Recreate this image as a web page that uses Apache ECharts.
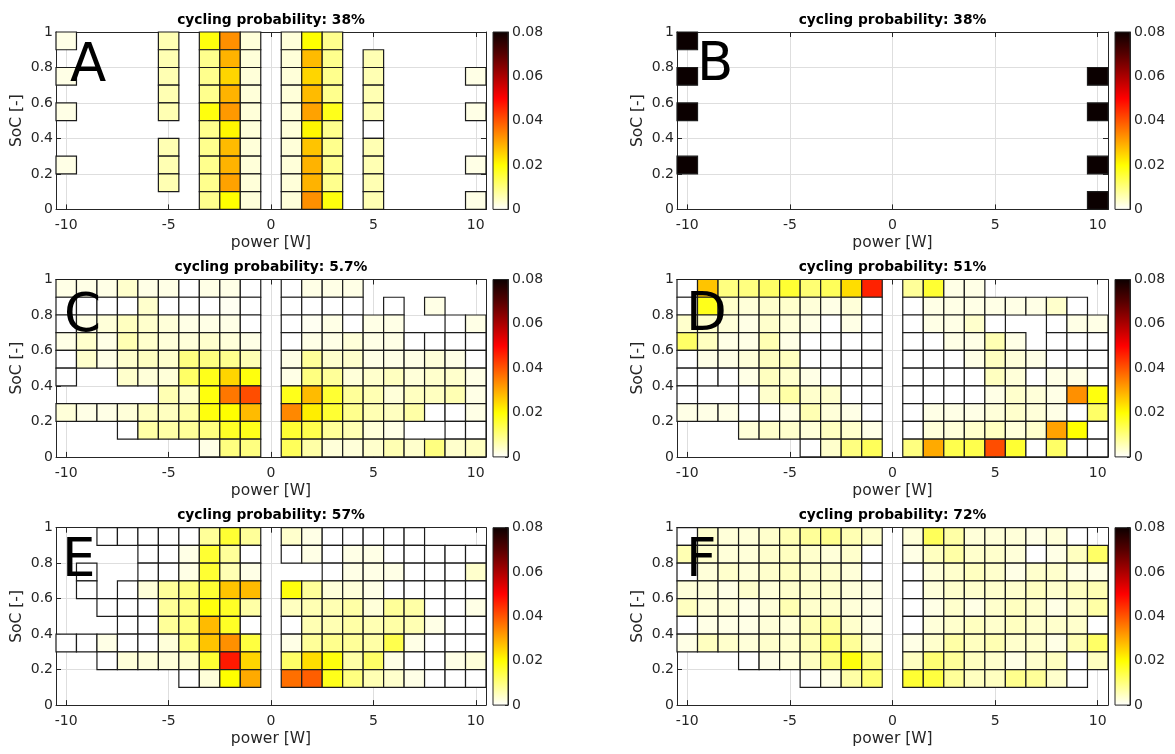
<!DOCTYPE html>
<html>
<head>
<meta charset="utf-8">
<script src="https://cdn.jsdelivr.net/npm/echarts@6/dist/echarts.min.js"></script>
<style>html,body{margin:0;padding:0;background:#fff}#chart{width:1175px;height:754px}</style>
</head>
<body>
<div id="chart"></div>
<script>
// ---------- data (values in units of 0.001 probability; null = no cell) ----------
const n = null;
const SCALE = 0.001;
const POWER = [-10,-9,-8,-7,-6,-5,-4,-3,-2,-1,0,1,2,3,4,5,6,7,8,9,10];
const SOC_LOWER = [0.9,0.8,0.7,0.6,0.5,0.4,0.3,0.2,0.1,0.0]; // rows, top to bottom
const X_TICKS = [-10,-5,0,5,10];
const TITLES = ['cycling probability: 38%','cycling probability: 38%','cycling probability: 5.7%',
                'cycling probability: 51%','cycling probability: 57%','cycling probability: 72%'];
const LETTERS = ['A','B','C','D','E','F'];

const panelA = [
 [2,n,n,n,n,6,n,19,33,3,n,3,20,9,n,n,n,n,n,n,n],
 [n,n,n,n,n,6,n,9,29,3,n,3,28,9,n,6,n,n,n,n,n],
 [2,n,n,n,n,6,n,9,25,3,n,3,25,9,n,6,n,n,n,n,2],
 [n,n,n,n,n,6,n,9,29,3,n,3,28,9,n,6,n,n,n,n,n],
 [2,n,n,n,n,6,n,19,32,3,n,3,31,18,n,6,n,n,n,n,2],
 [n,n,n,n,n,n,n,9,21,3,n,3,21,9,n,0,n,n,n,n,n],
 [n,n,n,n,n,6,n,9,28,3,n,3,27,9,n,6,n,n,n,n,n],
 [2,n,n,n,n,6,n,9,29,3,n,3,29,9,n,6,n,n,n,n,2],
 [n,n,n,n,n,6,n,9,31,3,n,3,29,9,n,6,n,n,n,n,n],
 [n,n,n,n,n,n,n,9,20,3,n,3,33,19,n,6,n,n,n,n,2]
];
const panelB = [
 [80,n,n,n,n,n,n,n,n,n,n,n,n,n,n,n,n,n,n,n,n],
 [n,n,n,n,n,n,n,n,n,n,n,n,n,n,n,n,n,n,n,n,n],
 [80,n,n,n,n,n,n,n,n,n,n,n,n,n,n,n,n,n,n,n,80],
 [n,n,n,n,n,n,n,n,n,n,n,n,n,n,n,n,n,n,n,n,n],
 [80,n,n,n,n,n,n,n,n,n,n,n,n,n,n,n,n,n,n,n,80],
 [n,n,n,n,n,n,n,n,n,n,n,n,n,n,n,n,n,n,n,n,n],
 [n,n,n,n,n,n,n,n,n,n,n,n,n,n,n,n,n,n,n,n,n],
 [80,n,n,n,n,n,n,n,n,n,n,n,n,n,n,n,n,n,n,n,80],
 [n,n,n,n,n,n,n,n,n,n,n,n,n,n,n,n,n,n,n,n,n],
 [n,n,n,n,n,n,n,n,n,n,n,n,n,n,n,n,n,n,n,n,80]
];
const panelC = [
 [2,2,2,4,2,2,0,2,2,0,n,0,2,2,2,n,n,n,n,n,n],
 [0,0,0,0,4,0,0,0,1,0,n,0,0,0,0,n,0,n,2,n,n],
 [0,2,3,5,4,3,2,2,2,0,n,0,1,2,0,2,2,n,n,0,2],
 [2,4,2,6,4,3,3,4,3,2,n,0,2,2,3,2,2,0,0,0,0],
 [0,4,2,4,5,4,10,10,9,6,n,2,8,4,4,2,2,2,3,2,0],
 [0,n,n,4,3,3,12,18,25,19,n,2,10,8,3,4,5,3,4,4,2],
 [n,n,n,n,n,6,4,19,36,41,n,18,28,16,8,6,3,5,5,6,2],
 [3,2,2,3,5,5,7,19,20,28,n,34,22,16,9,6,5,7,0,0,2],
 [n,n,n,0,7,7,8,10,17,18,n,16,14,8,6,3,2,n,n,0,0],
 [n,n,n,n,n,n,n,2,10,10,n,13,7,3,3,4,6,4,10,4,5]
];
const panelD = [
 [0,27,10,10,12,16,11,13,24,46,n,8,16,2,2,n,n,n,n,n,n],
 [0,18,4,3,4,4,3,2,3,0,n,0,2,2,2,2,2,2,4,0,n],
 [4,4,3,2,4,3,2,0,2,0,n,0,2,2,4,0,n,n,0,2,2],
 [12,5,2,2,6,2,0,0,0,0,n,0,0,2,2,6,2,n,0,0,0],
 [0,2,2,3,5,5,0,0,0,0,n,0,0,0,2,5,3,2,0,0,0],
 [0,0,0,2,5,4,2,0,0,0,n,0,0,0,0,5,3,0,2,2,0],
 [0,n,n,0,4,7,4,4,0,0,n,0,0,0,0,2,4,3,2,33,19],
 [2,2,2,0,0,2,6,3,2,0,n,0,2,2,2,3,4,3,2,0,12],
 [n,n,n,3,4,4,3,5,4,2,n,0,3,3,4,5,3,4,31,20,0],
 [n,n,n,n,n,n,0,4,10,13,n,10,30,14,14,41,16,0,12,0,0]
];
const panelE = [
 [n,n,0,0,0,0,0,8,16,8,n,4,2,0,0,0,0,0,n,n,n],
 [n,n,n,n,0,0,2,16,8,0,n,0,2,0,2,2,0,0,0,0,0],
 [n,0,n,n,0,0,2,16,6,2,n,n,n,0,2,2,2,0,0,0,4],
 [n,0,n,0,3,8,10,16,27,28,n,19,8,3,3,2,0,0,0,0,0],
 [n,n,0,0,0,8,10,19,17,7,n,5,6,6,7,3,8,7,0,0,2],
 [n,n,n,0,0,8,10,28,17,0,n,0,6,6,7,6,7,6,2,0,0],
 [0,0,2,0,0,3,10,27,33,15,n,2,8,9,8,7,14,2,0,0,0],
 [n,n,0,3,3,3,4,16,47,25,n,12,24,19,7,12,2,0,0,2,3],
 [n,n,n,n,n,n,0,3,20,30,n,37,39,18,10,6,4,2,0,0,0],
 [n,n,n,n,n,n,n,n,n,n,n,n,n,n,n,n,n,n,n,n,n]
];
const panelF = [
 [0,4,3,3,4,6,8,9,6,4,n,3,13,7,3,3,3,2,3,0,n],
 [6,4,3,3,4,5,4,3,4,0,n,2,5,7,4,4,3,0,2,5,12],
 [0,3,4,3,4,5,4,4,3,0,n,0,3,4,5,4,2,4,4,2,2],
 [3,3,2,4,3,4,4,4,3,2,n,0,3,4,4,4,4,5,4,5,6],
 [5,3,3,2,3,6,4,4,3,2,n,0,2,4,2,4,5,4,2,4,7],
 [0,2,2,2,3,3,6,8,4,2,n,0,3,4,5,4,5,4,4,4,0],
 [2,5,4,3,4,4,6,11,8,3,n,2,4,7,5,6,4,4,2,6,12],
 [n,n,n,0,2,3,5,10,19,10,n,5,11,8,5,4,2,4,5,0,5],
 [n,n,n,n,n,n,0,2,7,11,n,16,15,8,5,5,9,8,4,0,n],
 [n,n,n,n,n,n,n,n,n,n,n,n,n,n,n,n,n,n,n,n,n]
];
const PANELS = [panelA, panelB, panelC, panelD, panelE, panelF];

// reversed "hot" colormap, evenly spaced stops over [0, 0.08]
const HOT = ['#ffffff','#ffff80','#ffff00','#ffaa00','#ff5500','#ff0000','#aa0000','#550000','#0b0000'];
const CBAR_MIN = 0, CBAR_MAX = 0.08, CBAR_STEP = 0.02;
const BIN_W = 1, BIN_H = 0.1;

// ---------- layout ----------
const FONT = 'DejaVu Sans';
const TXT = '#262626';
const GRIDC = '#dedede';
const COLS = [{left:56, width:430, cbar:493}, {left:677, width:431, cbar:1115}];
const ROWS = [32, 279.5, 527.7];
const PH = 177.4;
const LETTER_POS = [[70,67],[697,66],[64,317],[686,316],[62,562],[686,562]];

const chart = echarts.init(document.getElementById('chart'), null, {renderer:'canvas'});

const grid = [], xAxis = [], yAxis = [], series = [], cellSeries = [], graphic = [];

function cellsOf(M) {
  const out = [];
  M.forEach((row, r) => row.forEach((v, c) => {
    if (v !== null) out.push([POWER[c], SOC_LOWER[r], v * SCALE]);
  }));
  return out;
}

PANELS.forEach((M, p) => {
  const col = COLS[p % 2], top = ROWS[Math.floor(p / 2)];
  const g = grid.length;
  grid.push({left: col.left, top: top, width: col.width, height: PH, containLabel: false});
  grid.push({left: col.cbar, top: top, width: 15, height: PH, containLabel: false});
  const ax = xAxis.length, ay = yAxis.length;
  const line = {show: true, onZero: false, lineStyle: {color: TXT, width: 1}};
  const tick = {show: true, inside: true, length: 5, lineStyle: {color: TXT, width: 1}};
  // bottom x
  xAxis.push({type:'value', gridIndex:g, min:-10.5, max:10.5, position:'bottom',
    axisLine: line, axisTick: Object.assign({customValues: X_TICKS}, tick),
    axisLabel: {customValues: X_TICKS, color: TXT, fontSize: 14, margin: 9, fontFamily: FONT},
    splitLine: {show: true, lineStyle: {color: GRIDC, width: 1}},
    name: 'power [W]', nameLocation: 'middle', nameGap: 26,
    nameTextStyle: {fontSize: 15.5, color: TXT, fontFamily: FONT}});
  // top x (box + title)
  xAxis.push({type:'value', gridIndex:g, min:-10.5, max:10.5, position:'top',
    axisLine: line, axisTick: Object.assign({customValues: X_TICKS}, tick),
    axisLabel: {show: false, customValues: X_TICKS}, splitLine: {show: false},
    name: TITLES[p], nameLocation: 'middle', nameGap: 5,
    nameTextStyle: {fontSize: 13.8, fontWeight: 'bold', color: '#000', fontFamily: FONT}});
  // colorbar x
  xAxis.push({type:'value', gridIndex:g+1, min:0, max:1, show:false});
  // left y
  yAxis.push({type:'value', gridIndex:g, min:0, max:1, interval:0.2, position:'left',
    axisLine: line, axisTick: tick,
    axisLabel: {color: TXT, fontSize: 14, margin: 3, fontFamily: FONT},
    splitLine: {show: true, lineStyle: {color: GRIDC, width: 1}},
    name: 'SoC [-]', nameLocation: 'middle', nameGap: 31,
    nameTextStyle: {fontSize: 15.5, color: TXT, fontFamily: FONT}});
  // right y
  yAxis.push({type:'value', gridIndex:g, min:0, max:1, interval:0.2, position:'right',
    axisLine: line, axisTick: tick, axisLabel: {show:false}, splitLine: {show:false}});
  // colorbar y
  yAxis.push({type:'value', gridIndex:g+1, min:CBAR_MIN, max:CBAR_MAX, interval:CBAR_STEP, position:'right',
    axisLine: line, axisTick: {show:true, inside:true, length:3, lineStyle:{color:TXT}},
    axisLabel: {color: TXT, fontSize: 14, margin: 4, fontFamily: FONT}, splitLine: {show:false}});

  cellSeries.push(series.length);
  series.push({
    type: 'custom', xAxisIndex: ax, yAxisIndex: ay, data: cellsOf(M),
    encode: {x: 0, y: 1}, z: 3,
    renderItem: function (params, api) {
      const x = api.value(0), y0 = api.value(1);
      const a = api.coord([x - BIN_W / 2, y0 + BIN_H]);
      const b = api.coord([x + BIN_W / 2, y0]);
      return {type: 'rect', shape: {x: a[0], y: a[1], width: b[0] - a[0], height: b[1] - a[1]},
        style: {fill: api.visual('color'), stroke: '#1c1c1c', lineWidth: 1.2}};
    }
  });
  // colorbar
  series.push({
    type: 'custom', xAxisIndex: ax + 2, yAxisIndex: ay + 2, data: [[0, CBAR_MIN]], z: 3,
    renderItem: function (params, api) {
      const a = api.coord([0, CBAR_MAX]);
      const b = api.coord([1, CBAR_MIN]);
      const stops = HOT.map((c, i) => ({offset: 1 - i / (HOT.length - 1), color: c}));
      stops.reverse();
      return {type: 'rect', shape: {x: a[0], y: a[1], width: b[0] - a[0], height: b[1] - a[1]},
        style: {fill: new echarts.graphic.LinearGradient(0, 0, 0, 1, stops), stroke: TXT, lineWidth: 1}};
    }
  });
  graphic.push({type: 'text', x: LETTER_POS[p][0], y: LETTER_POS[p][1], z: 10,
    style: {text: LETTERS[p], fontSize: 53, fontFamily: FONT, fill: '#000',
            align: 'left', verticalAlign: 'middle', textAlign: 'left', textVerticalAlign: 'middle'}});
});

chart.setOption({
  animation: false,
  backgroundColor: '#ffffff',
  textStyle: {fontFamily: FONT},
  grid, xAxis, yAxis, series, graphic,
  visualMap: {type: 'continuous', show: false, min: CBAR_MIN, max: CBAR_MAX, dimension: 2,
    seriesIndex: cellSeries, inRange: {color: HOT}}
});
</script>
</body>
</html>
